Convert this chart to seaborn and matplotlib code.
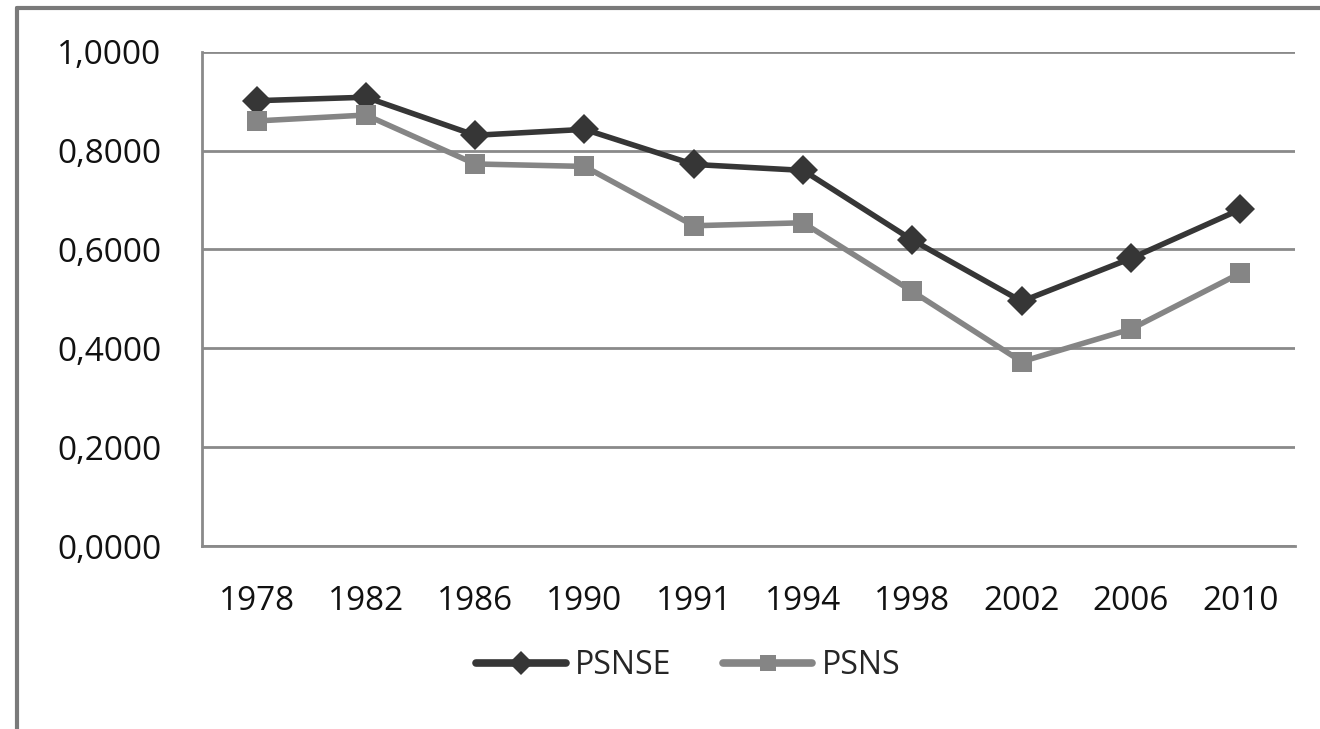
import pandas as pd
import numpy as np
import matplotlib.pyplot as plt
import seaborn as sns
from matplotlib.lines import Line2D
from matplotlib.ticker import FuncFormatter

# Data
years = ["1978", "1982", "1986", "1990", "1991", "1994", "1998", "2002", "2006", "2010"]
psnse = [0.901, 0.908, 0.831, 0.843, 0.772, 0.760, 0.619, 0.495, 0.582, 0.681]
psns = [0.860, 0.872, 0.773, 0.768, 0.648, 0.654, 0.515, 0.373, 0.439, 0.552]

df = pd.DataFrame({
    "year": years * 2,
    "value": psnse + psns,
    "series": ["PSNSE"] * len(years) + ["PSNS"] * len(years),
})

sns.set_style("white")
plt.rcParams["font.family"] = ["Open Sans", "DejaVu Sans"]

fig = plt.figure(figsize=(13.2, 7.29), dpi=100)
ax = fig.add_axes([0.153, 0.251, 0.828, 0.678])

# Gridlines first so lines sit on top
ax.set_ylim(0, 1.0)
ax.set_yticks(np.arange(0, 1.01, 0.2))
ax.yaxis.grid(True, color="#8a8a8a", linewidth=2)
ax.set_axisbelow(True)

palette = {"PSNSE": "#363636", "PSNS": "#858585"}
markers = {"PSNSE": "D", "PSNS": "s"}
sns.lineplot(data=df, x="year", y="value", hue="series", style="series",
             palette=palette, markers=markers, dashes=False, sort=False,
             linewidth=4, markersize=14, markeredgewidth=0, ax=ax)

# diamonds a bit bigger than the squares
for line in ax.lines:
    if line.get_marker() == "D":
        line.set_markersize(15.5)

ax.set_xlim(-0.5, len(years) - 0.5)
ax.yaxis.set_major_formatter(FuncFormatter(lambda v, p: f"{v:.4f}".replace(".", ",")))
ax.tick_params(axis="y", length=0, pad=29, labelsize=24, labelcolor="#111111")
ax.tick_params(axis="x", length=0, pad=28, labelsize=24, labelcolor="#111111")
ax.set_xlabel("")
ax.set_ylabel("")

for side in ["top", "right"]:
    ax.spines[side].set_visible(False)
for side in ["left", "bottom"]:
    ax.spines[side].set_color("#8a8a8a")
    ax.spines[side].set_linewidth(2)

leg = ax.legend(loc="upper center", bbox_to_anchor=(0.445, -0.15), ncol=2, frameon=False,
                fontsize=23, handlelength=2.8, handletextpad=0.3, columnspacing=1.6)
for h in leg.legend_handles:
    h.set_linewidth(5.5)
    h.set_solid_capstyle("round")
    h.set_markersize(12)

# Outer chart border (cropped at right and bottom)
fig.add_artist(Line2D([17 / 1320, 17 / 1320], [0, 1 - 8 / 729], color="#7a7a7a", linewidth=3))
fig.add_artist(Line2D([17 / 1320, 1], [1 - 8 / 729, 1 - 8 / 729], color="#7a7a7a", linewidth=3))

fig.savefig("out.png", dpi=100)
